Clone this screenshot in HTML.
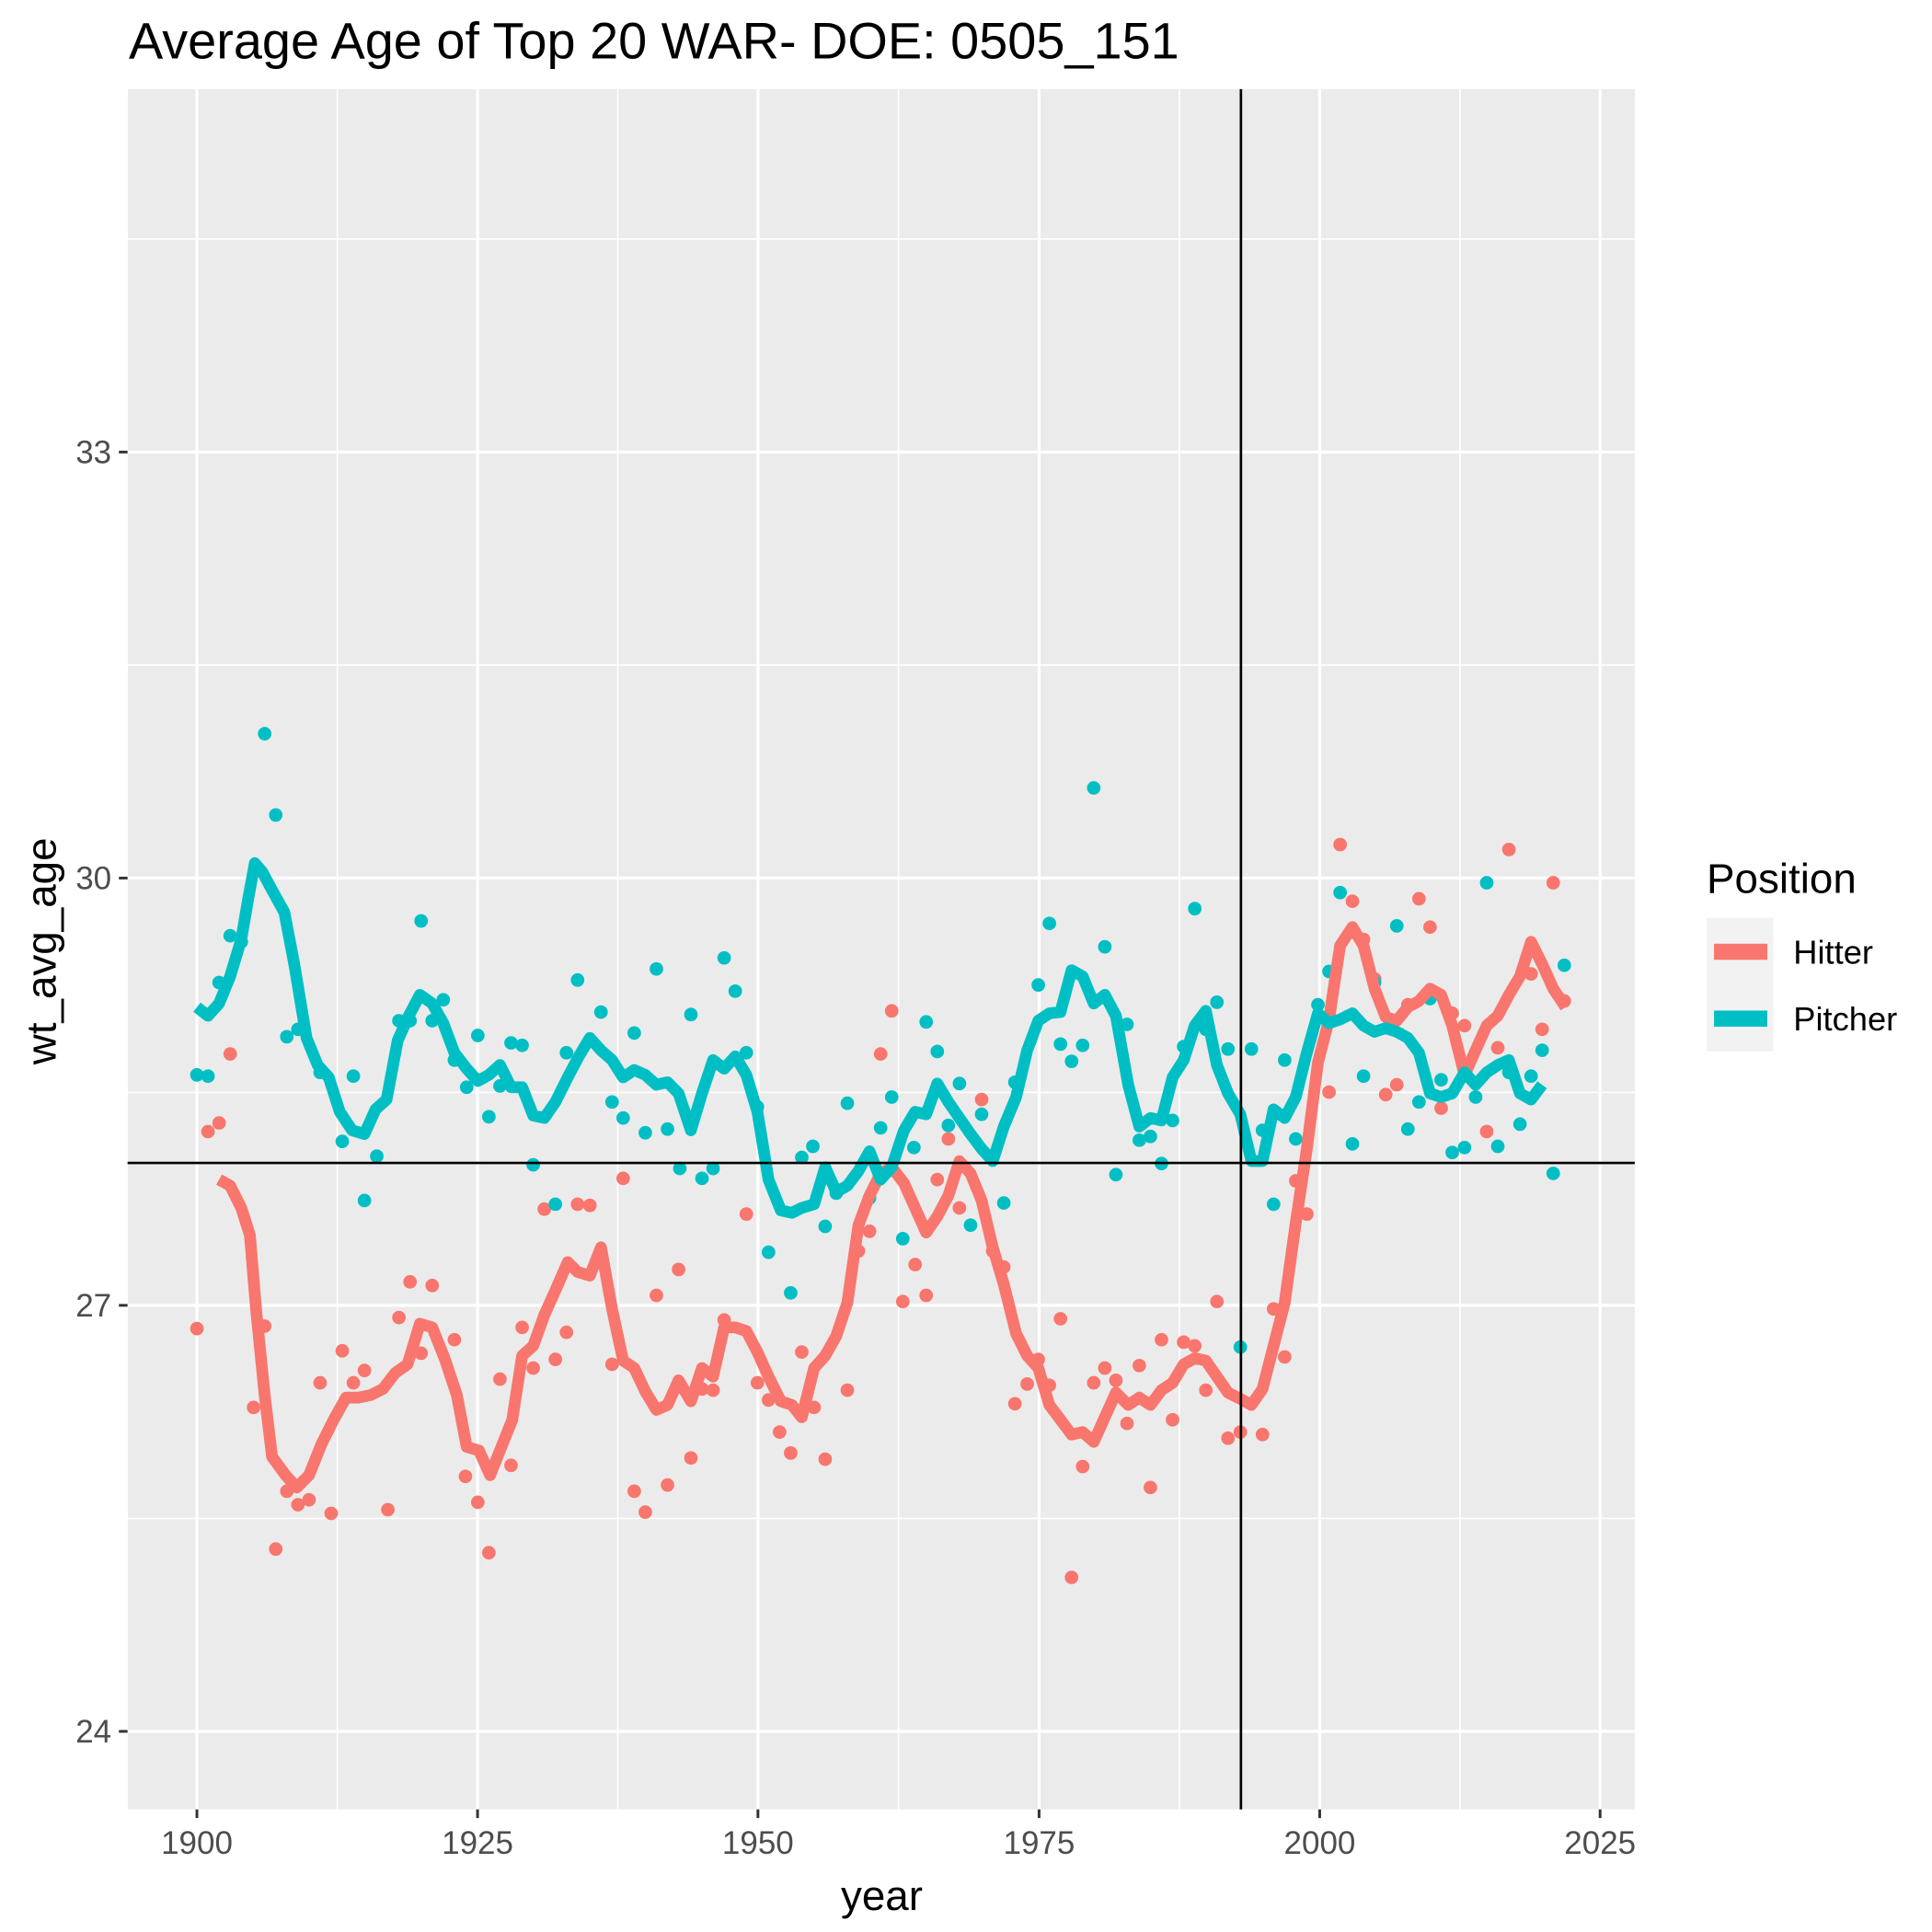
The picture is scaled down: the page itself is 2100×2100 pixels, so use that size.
<!DOCTYPE html>
<html><head><meta charset="utf-8"><style>html,body{margin:0;padding:0;background:#fff}svg{display:block}</style></head><body>
<svg width="2100" height="2100" viewBox="0 0 1560 1560" xmlns="http://www.w3.org/2000/svg" font-family="Liberation Sans, Arial, sans-serif">
<rect x="0" y="0" width="1560" height="1560" fill="#fff"/>
<rect x="103.3" y="72" width="1216.7" height="1389" fill="#ebebeb"/>
<g stroke="#fff" stroke-width="1.2">
<line x1="103" x2="1320" y1="1226" y2="1226"/><line x1="103" x2="1320" y1="882" y2="882"/><line x1="103" x2="1320" y1="537" y2="537"/><line x1="103" x2="1320" y1="193" y2="193"/>
<line y1="72" y2="1461" x1="272.3" x2="272.3"/><line y1="72" y2="1461" x1="498.8" x2="498.8"/><line y1="72" y2="1461" x1="725.5" x2="725.5"/><line y1="72" y2="1461" x1="952.3" x2="952.3"/><line y1="72" y2="1461" x1="1178.8" x2="1178.8"/>
</g>
<g stroke="#fff" stroke-width="2.4">
<line x1="103" x2="1320" y1="1398" y2="1398"/><line x1="103" x2="1320" y1="1054" y2="1054"/><line x1="103" x2="1320" y1="709" y2="709"/><line x1="103" x2="1320" y1="365" y2="365"/>
<line y1="72" y2="1461" x1="159" x2="159"/><line y1="72" y2="1461" x1="385.6" x2="385.6"/><line y1="72" y2="1461" x1="612" x2="612"/><line y1="72" y2="1461" x1="839" x2="839"/><line y1="72" y2="1461" x1="1065.6" x2="1065.6"/><line y1="72" y2="1461" x1="1292" x2="1292"/>
</g>
<g transform="matrix(0.9947,0,0,0.9945,0.84,2.71)">
<g fill="#F8766D">
<circle cx="159" cy="1076" r="5.5"/><circle cx="168" cy="916" r="5.5"/><circle cx="177" cy="909" r="5.5"/><circle cx="186" cy="853" r="5.5"/><circle cx="205" cy="1140" r="5.5"/><circle cx="214" cy="1074" r="5.5"/><circle cx="223" cy="1255" r="5.5"/><circle cx="232" cy="1208" r="5.5"/><circle cx="241" cy="1219" r="5.5"/><circle cx="250" cy="1215" r="5.5"/><circle cx="259" cy="1120" r="5.5"/><circle cx="268" cy="1226" r="5.5"/><circle cx="277" cy="1094" r="5.5"/><circle cx="286" cy="1120" r="5.5"/><circle cx="295" cy="1110" r="5.5"/><circle cx="314" cy="1223" r="5.5"/><circle cx="323" cy="1067" r="5.5"/><circle cx="332" cy="1038" r="5.5"/><circle cx="341" cy="1096" r="5.5"/><circle cx="350" cy="1041" r="5.5"/><circle cx="368" cy="1085" r="5.5"/><circle cx="377" cy="1196" r="5.5"/><circle cx="387" cy="1217" r="5.5"/><circle cx="396" cy="1258" r="5.5"/><circle cx="405" cy="1117" r="5.5"/><circle cx="414" cy="1187" r="5.5"/><circle cx="423" cy="1075" r="5.5"/><circle cx="432" cy="1108" r="5.5"/><circle cx="441" cy="979" r="5.5"/><circle cx="450" cy="1101" r="5.5"/><circle cx="459" cy="1079" r="5.5"/><circle cx="468" cy="975" r="5.5"/><circle cx="478" cy="976" r="5.5"/><circle cx="496" cy="1105" r="5.5"/><circle cx="505" cy="954" r="5.5"/><circle cx="514" cy="1208" r="5.5"/><circle cx="523" cy="1225" r="5.5"/><circle cx="532" cy="1049" r="5.5"/><circle cx="541" cy="1203" r="5.5"/><circle cx="550" cy="1028" r="5.5"/><circle cx="560" cy="1181" r="5.5"/><circle cx="569" cy="1125" r="5.5"/><circle cx="578" cy="1126" r="5.5"/><circle cx="587" cy="1069" r="5.5"/><circle cx="605" cy="983" r="5.5"/><circle cx="614" cy="1120" r="5.5"/><circle cx="623" cy="1134" r="5.5"/><circle cx="632" cy="1160" r="5.5"/><circle cx="641" cy="1177" r="5.5"/><circle cx="650" cy="1095" r="5.5"/><circle cx="660" cy="1140" r="5.5"/><circle cx="669" cy="1182" r="5.5"/><circle cx="687" cy="1126" r="5.5"/><circle cx="696" cy="1013" r="5.5"/><circle cx="705" cy="997" r="5.5"/><circle cx="714" cy="853" r="5.5"/><circle cx="723" cy="818" r="5.5"/><circle cx="732" cy="1054" r="5.5"/><circle cx="742" cy="1024" r="5.5"/><circle cx="751" cy="1049" r="5.5"/><circle cx="760" cy="955" r="5.5"/><circle cx="769" cy="922" r="5.5"/><circle cx="778" cy="978" r="5.5"/><circle cx="796" cy="890" r="5.5"/><circle cx="805" cy="1013" r="5.5"/><circle cx="814" cy="1026" r="5.5"/><circle cx="823" cy="1137" r="5.5"/><circle cx="833" cy="1121" r="5.5"/><circle cx="842" cy="1101" r="5.5"/><circle cx="851" cy="1122" r="5.5"/><circle cx="860" cy="1068" r="5.5"/><circle cx="869" cy="1278" r="5.5"/><circle cx="878" cy="1188" r="5.5"/><circle cx="887" cy="1120" r="5.5"/><circle cx="896" cy="1108" r="5.5"/><circle cx="905" cy="1118" r="5.5"/><circle cx="914" cy="1153" r="5.5"/><circle cx="924" cy="1106" r="5.5"/><circle cx="933" cy="1205" r="5.5"/><circle cx="942" cy="1085" r="5.5"/><circle cx="951" cy="1150" r="5.5"/><circle cx="960" cy="1087" r="5.5"/><circle cx="969" cy="1090" r="5.5"/><circle cx="978" cy="1126" r="5.5"/><circle cx="987" cy="1054" r="5.5"/><circle cx="996" cy="1165" r="5.5"/><circle cx="1006" cy="1160" r="5.5"/><circle cx="1024" cy="1162" r="5.5"/><circle cx="1033" cy="1060" r="5.5"/><circle cx="1042" cy="1099" r="5.5"/><circle cx="1051" cy="956" r="5.5"/><circle cx="1060" cy="983" r="5.5"/><circle cx="1078" cy="884" r="5.5"/><circle cx="1087" cy="683" r="5.5"/><circle cx="1097" cy="729" r="5.5"/><circle cx="1106" cy="760" r="5.5"/><circle cx="1115" cy="792" r="5.5"/><circle cx="1124" cy="886" r="5.5"/><circle cx="1133" cy="878" r="5.5"/><circle cx="1142" cy="813" r="5.5"/><circle cx="1151" cy="727" r="5.5"/><circle cx="1160" cy="750" r="5.5"/><circle cx="1169" cy="897" r="5.5"/><circle cx="1178" cy="820" r="5.5"/><circle cx="1188" cy="830" r="5.5"/><circle cx="1206" cy="916" r="5.5"/><circle cx="1215" cy="848" r="5.5"/><circle cx="1224" cy="687" r="5.5"/><circle cx="1242" cy="788" r="5.5"/><circle cx="1251" cy="833" r="5.5"/><circle cx="1260" cy="714" r="5.5"/><circle cx="1269" cy="810" r="5.5"/>
</g>
<g fill="#00BFC4">
<circle cx="159" cy="870" r="5.5"/><circle cx="168" cy="871" r="5.5"/><circle cx="177" cy="795" r="5.5"/><circle cx="186" cy="757" r="5.5"/><circle cx="195" cy="762" r="5.5"/><circle cx="214" cy="593" r="5.5"/><circle cx="223" cy="659" r="5.5"/><circle cx="232" cy="839" r="5.5"/><circle cx="241" cy="833" r="5.5"/><circle cx="259" cy="868" r="5.5"/><circle cx="277" cy="924" r="5.5"/><circle cx="286" cy="871" r="5.5"/><circle cx="295" cy="972" r="5.5"/><circle cx="305" cy="936" r="5.5"/><circle cx="323" cy="826" r="5.5"/><circle cx="332" cy="826" r="5.5"/><circle cx="341" cy="745" r="5.5"/><circle cx="350" cy="826" r="5.5"/><circle cx="359" cy="809" r="5.5"/><circle cx="368" cy="858" r="5.5"/><circle cx="378" cy="880" r="5.5"/><circle cx="387" cy="838" r="5.5"/><circle cx="396" cy="904" r="5.5"/><circle cx="405" cy="879" r="5.5"/><circle cx="414" cy="844" r="5.5"/><circle cx="423" cy="846" r="5.5"/><circle cx="432" cy="943" r="5.5"/><circle cx="450" cy="975" r="5.5"/><circle cx="459" cy="852" r="5.5"/><circle cx="468" cy="793" r="5.5"/><circle cx="487" cy="819" r="5.5"/><circle cx="496" cy="892" r="5.5"/><circle cx="505" cy="905" r="5.5"/><circle cx="514" cy="836" r="5.5"/><circle cx="523" cy="917" r="5.5"/><circle cx="532" cy="784" r="5.5"/><circle cx="541" cy="914" r="5.5"/><circle cx="551" cy="946" r="5.5"/><circle cx="560" cy="821" r="5.5"/><circle cx="569" cy="954" r="5.5"/><circle cx="578" cy="946" r="5.5"/><circle cx="587" cy="775" r="5.5"/><circle cx="596" cy="802" r="5.5"/><circle cx="605" cy="852" r="5.5"/><circle cx="614" cy="896" r="5.5"/><circle cx="623" cy="1014" r="5.5"/><circle cx="641" cy="1047" r="5.5"/><circle cx="650" cy="937" r="5.5"/><circle cx="659" cy="928" r="5.5"/><circle cx="669" cy="993" r="5.5"/><circle cx="678" cy="966" r="5.5"/><circle cx="687" cy="893" r="5.5"/><circle cx="705" cy="970" r="5.5"/><circle cx="714" cy="913" r="5.5"/><circle cx="723" cy="888" r="5.5"/><circle cx="732" cy="1003" r="5.5"/><circle cx="741" cy="929" r="5.5"/><circle cx="751" cy="827" r="5.5"/><circle cx="760" cy="851" r="5.5"/><circle cx="769" cy="911" r="5.5"/><circle cx="778" cy="877" r="5.5"/><circle cx="787" cy="992" r="5.5"/><circle cx="796" cy="902" r="5.5"/><circle cx="814" cy="974" r="5.5"/><circle cx="823" cy="876" r="5.5"/><circle cx="842" cy="797" r="5.5"/><circle cx="851" cy="747" r="5.5"/><circle cx="860" cy="845" r="5.5"/><circle cx="869" cy="859" r="5.5"/><circle cx="878" cy="846" r="5.5"/><circle cx="887" cy="637" r="5.5"/><circle cx="896" cy="766" r="5.5"/><circle cx="905" cy="951" r="5.5"/><circle cx="914" cy="829" r="5.5"/><circle cx="924" cy="923" r="5.5"/><circle cx="933" cy="920" r="5.5"/><circle cx="942" cy="942" r="5.5"/><circle cx="951" cy="907" r="5.5"/><circle cx="960" cy="847" r="5.5"/><circle cx="969" cy="735" r="5.5"/><circle cx="978" cy="833" r="5.5"/><circle cx="987" cy="811" r="5.5"/><circle cx="996" cy="849" r="5.5"/><circle cx="1006" cy="1091" r="5.5"/><circle cx="1015" cy="849" r="5.5"/><circle cx="1024" cy="915" r="5.5"/><circle cx="1033" cy="975" r="5.5"/><circle cx="1042" cy="858" r="5.5"/><circle cx="1051" cy="922" r="5.5"/><circle cx="1069" cy="813" r="5.5"/><circle cx="1078" cy="786" r="5.5"/><circle cx="1087" cy="722" r="5.5"/><circle cx="1097" cy="926" r="5.5"/><circle cx="1106" cy="871" r="5.5"/><circle cx="1115" cy="795" r="5.5"/><circle cx="1133" cy="749" r="5.5"/><circle cx="1142" cy="914" r="5.5"/><circle cx="1151" cy="892" r="5.5"/><circle cx="1160" cy="808" r="5.5"/><circle cx="1169" cy="874" r="5.5"/><circle cx="1178" cy="933" r="5.5"/><circle cx="1188" cy="929" r="5.5"/><circle cx="1197" cy="888" r="5.5"/><circle cx="1206" cy="714" r="5.5"/><circle cx="1215" cy="928" r="5.5"/><circle cx="1224" cy="868" r="5.5"/><circle cx="1233" cy="910" r="5.5"/><circle cx="1242" cy="871" r="5.5"/><circle cx="1251" cy="850" r="5.5"/><circle cx="1260" cy="950" r="5.5"/><circle cx="1269" cy="781" r="5.5"/>
</g>
<polyline fill="none" stroke="#F8766D" stroke-width="9.5" stroke-linejoin="round" points="177,955 186,960 195,978 202,1000 207,1060 214,1130 220,1180 231,1195 240,1205 250,1195 260,1170 270,1150 280,1132 290,1132 300,1130 310,1125 320,1112 330,1105 340,1072 350,1075 360,1100 370,1130 378,1172 388,1175 397,1195 405,1175 415,1150 423,1098 432,1090 441,1065 450,1045 460,1022 468,1030 478,1033 487,1010 496,1060 505,1102 514,1108 523,1127 532,1142 541,1138 550,1118 560,1135 569,1108 578,1115 587,1075 596,1075 605,1078 614,1095 623,1115 633,1135 642,1138 650,1148 660,1108 669,1098 678,1082 687,1055 696,992 705,968 714,950 723,945 733,958 742,978 751,998 760,985 769,968 778,940 787,950 796,972 805,1010 814,1040 824,1080 833,1098 842,1108 851,1138 860,1150 869,1162 878,1160 887,1168 896,1148 905,1128 915,1138 924,1132 933,1138 942,1126 951,1120 960,1105 969,1100 978,1102 987,1115 996,1128 1006,1133 1015,1138 1024,1125 1033,1090 1042,1055 1051,990 1060,930 1069,860 1078,825 1087,765 1097,750 1106,765 1115,800 1124,823 1133,826 1142,815 1151,810 1160,800 1169,805 1178,830 1188,870 1197,850 1206,830 1215,822 1224,805 1233,790 1242,762 1251,780 1260,800 1270,815"/>
<polyline fill="none" stroke="#00BFC4" stroke-width="9.5" stroke-linejoin="round" points="159,815 168,822 177,812 186,790 195,760 201,725 206,698 212,705 220,720 230,738 238,780 248,840 257,862 266,872 275,900 285,915 295,918 304,898 313,890 322,842 331,822 340,805 350,812 359,828 368,852 378,865 387,875 396,870 405,862 414,880 423,880 432,903 441,905 450,892 460,872 469,855 478,840 487,850 496,858 505,872 514,866 523,870 532,878 541,876 550,885 560,915 569,885 578,858 587,865 596,855 605,870 614,900 623,955 633,980 642,982 650,978 660,975 669,945 678,965 687,960 696,948 705,932 714,955 723,945 733,915 742,900 751,902 760,877 769,892 778,905 787,918 796,930 805,940 814,912 824,888 833,850 842,826 851,820 860,819 869,785 878,790 887,812 896,805 905,822 915,878 924,912 933,905 942,907 951,872 960,858 969,830 978,818 987,862 996,885 1006,902 1015,940 1024,940 1033,898 1042,905 1051,888 1060,852 1069,820 1078,828 1087,825 1097,820 1106,830 1115,835 1124,832 1133,835 1142,840 1151,852 1160,885 1169,888 1178,885 1188,868 1197,878 1206,868 1215,862 1224,858 1233,885 1242,890 1251,878"/>
</g>
<line x1="103" x2="1320" y1="939" y2="939" stroke="#000" stroke-width="2"/>
<line x1="1002" x2="1002" y1="72" y2="1461" stroke="#000" stroke-width="2"/>
<g stroke="#333" stroke-width="2.2">
<line x1="96" x2="103" y1="1398" y2="1398"/><line x1="96" x2="103" y1="1054" y2="1054"/><line x1="96" x2="103" y1="709" y2="709"/><line x1="96" x2="103" y1="365" y2="365"/>
<line y1="1461" y2="1468" x1="159" x2="159"/><line y1="1461" y2="1468" x1="385.6" x2="385.6"/><line y1="1461" y2="1468" x1="612" x2="612"/><line y1="1461" y2="1468" x1="839" x2="839"/><line y1="1461" y2="1468" x1="1065.6" x2="1065.6"/><line y1="1461" y2="1468" x1="1292" x2="1292"/>
</g>
<g fill="#4d4d4d" font-size="26" text-anchor="end">
<text x="90" y="1407">24</text><text x="90" y="1063">27</text><text x="90" y="718">30</text><text x="90" y="374">33</text>
</g>
<g fill="#4d4d4d" font-size="26" text-anchor="middle">
<text x="159" y="1497">1900</text><text x="385.6" y="1497">1925</text><text x="612" y="1497">1950</text><text x="839" y="1497">1975</text><text x="1065.6" y="1497">2000</text><text x="1292" y="1497">2025</text>
</g>
<text x="712" y="1542" font-size="34" text-anchor="middle">year</text>
<text transform="translate(45,768) rotate(-90)" font-size="34" text-anchor="middle">wt_avg_age</text>
<text x="104" y="47" font-size="41.5">Average Age of Top 20 WAR- DOE: 0505_151</text>
<text x="1378" y="721" font-size="34">Position</text>
<rect x="1378" y="741" width="54" height="108" fill="#f2f2f2"/>
<rect x="1384" y="762" width="43" height="13" fill="#F8766D"/>
<rect x="1384" y="816" width="43" height="13" fill="#00BFC4"/>
<text x="1448" y="778" font-size="27">Hitter</text>
<text x="1448" y="832" font-size="27">Pitcher</text>
</svg>
</body></html>
